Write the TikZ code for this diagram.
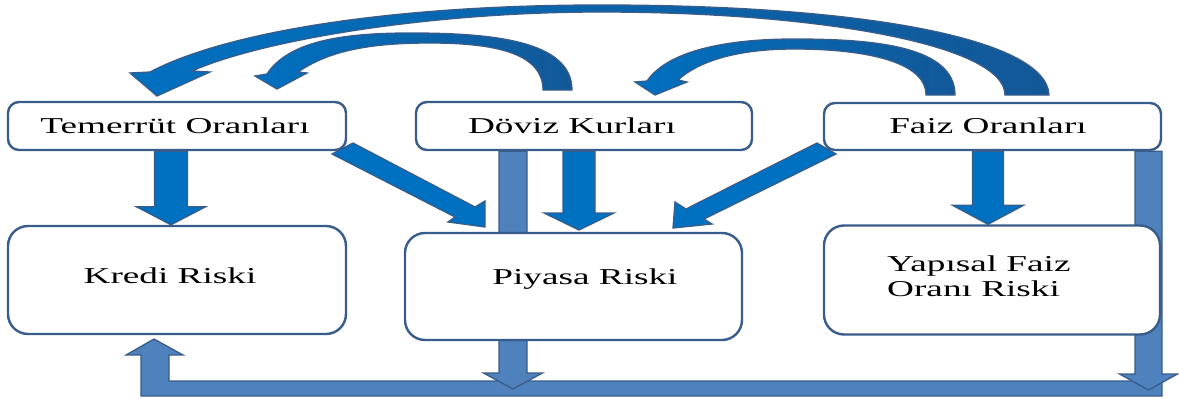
\documentclass[tikz,border=0pt]{standalone}
\usepackage{fontspec}
\newfontfamily\lblfont[FakeStretch=1.64]{Liberation Serif}
\usetikzlibrary{calc}
\definecolor{edge}{RGB}{56,93,138}
\definecolor{fatblue}{RGB}{0,112,192}
\definecolor{deepblue}{RGB}{18,88,152}
\definecolor{paleblue}{RGB}{79,129,189}

% straight vertical block arrow: style, source anchor, tip, half shaft, half head, head length
\newcommand\fatvert[6]{%
  \draw[#1] ($(#3 |- #2)+(-#4,0)$) -- ($(#3)+(-#4,-#6)$) -- ($(#3)+(-#5,-#6)$)
    -- (#3) -- ($(#3)+(#5,-#6)$) -- ($(#3)+(#4,-#6)$) -- ($(#3 |- #2)+(#4,0)$) -- cycle;}

\begin{document}
\begin{tikzpicture}[x=1pt,y=-1pt,
  box/.style={draw=edge, line width=2.4pt, fill=white, rounded corners=#1, inner sep=0pt},
  box/.default=11pt,
  lbl/.style={font={\lblfont\fontsize{22.7pt}{25pt}\selectfont}, inner sep=0pt, anchor=base},
  solidarrow/.style={fill=fatblue, draw=edge, line width=1.3pt, line join=miter},
  palearrow/.style={fill=paleblue, draw=edge, line width=1.3pt, line join=miter},
  bentarrow/.style={left color=fatblue, right color=deepblue, draw=edge, line width=1.3pt, line join=miter}]
\useasboundingbox (0,0) rectangle (1179,399);

% feedback path along the bottom, up into Kredi Riski
\path[palearrow] (1162,381) -- (169,381) -- (169,355) -- (183,355) -- (154,339)
  -- (126,355) -- (141,355) -- (141,396) -- (1162,396) -- cycle;

% source boxes
\node[box, minimum width=338pt, minimum height=48pt] (tem) at (177,126) {};
\node[box, minimum width=336pt, minimum height=48pt] (dov) at (584,126) {};
\node[box, minimum width=337pt, minimum height=47pt] (fai) at (992.5,126.5) {};

% pale arrows running down behind the risk boxes
\coordinate (l1tip) at (513,389);
\coordinate (l2tip) at (1148.5,390);
\fatvert{palearrow}{dov.south}{l1tip}{14}{29.5}{16}
\fatvert{palearrow}{fai.south}{l2tip}{13.5}{29}{16}

% risk boxes
\node[box=20pt, minimum width=338pt, minimum height=108pt] (kre) at (177,280) {};
\node[box=20pt, minimum width=337pt, minimum height=107pt] (piy) at (573.5,286.5) {};
\node[box=20pt, minimum width=336pt, minimum height=109pt] (yap) at (992,280) {};

% straight arrows from sources to risks
\coordinate (b1tip) at (kre.north -| 171,0);
\coordinate (b2tip) at (579,230);
\coordinate (b3tip) at (yap.north -| 988,0);
\fatvert{solidarrow}{tem.south}{b1tip}{16.5}{34.5}{18}
\fatvert{solidarrow}{dov.south}{b2tip}{16}{35}{17}
\fatvert{solidarrow}{fai.south}{b3tip}{15.5}{35.5}{19}

% diagonal arrows into Piyasa Riski
\path[solidarrow] (332,154) -- (353,143) -- (475,207) -- (485,201) -- (485,227)
  -- (448,222) -- (455,217) -- cycle;
\path[solidarrow] (817,143) -- (686,209) -- (675,202) -- (673,228) -- (712,224)
  -- (704,219) -- (836,154) -- cycle;

% curved arrows over the top
\path[bentarrow] (1049,95) .. controls (1047,40) and (870,5) .. (600,5)
  .. controls (400,5) and (230,30) .. (150,72) -- (130,73) -- (157,96) -- (210,72)
  -- (192,71) .. controls (262,40) and (430,12) .. (600,12)
  .. controls (820,12) and (1005,45) .. (1005,95) -- cycle;
\path[bentarrow] (572,90) .. controls (572,40) and (490,33) .. (410,33)
  .. controls (340,33) and (288,42) .. (267,74) -- (255,76) -- (277,89) -- (307,73)
  -- (298,72) .. controls (330,50) and (372,43) .. (430,43)
  .. controls (500,43) and (543,55) .. (543,90) -- cycle;
\path[bentarrow] (955,95) .. controls (955,45) and (870,39) .. (794,39)
  .. controls (735,39) and (670,48) .. (647,81) -- (635,82) -- (655,95) -- (687,82)
  -- (678,80) .. controls (700,60) and (740,49) .. (794,49)
  .. controls (860,49) and (926,60) .. (926,95) -- cycle;

% labels
\node[lbl] (temT) at (175,133) {Temerrüt Oranları};
\node[lbl] (dovT) at (572,133) {Döviz Kurları};
\node[lbl] (faiT) at (988,133) {Faiz Oranları};
\node[lbl] (kreT) at (170,283) {Kredi Riski};
\node[lbl] (piyT) at (585,284) {Piyasa Riski};
\node[lbl, anchor=base west] (yapA) at (887,271) {Yapısal Faiz};
\node[lbl, anchor=base west] (yapB) at (887,296) {Oranı Riski};
\end{tikzpicture}
\end{document}
